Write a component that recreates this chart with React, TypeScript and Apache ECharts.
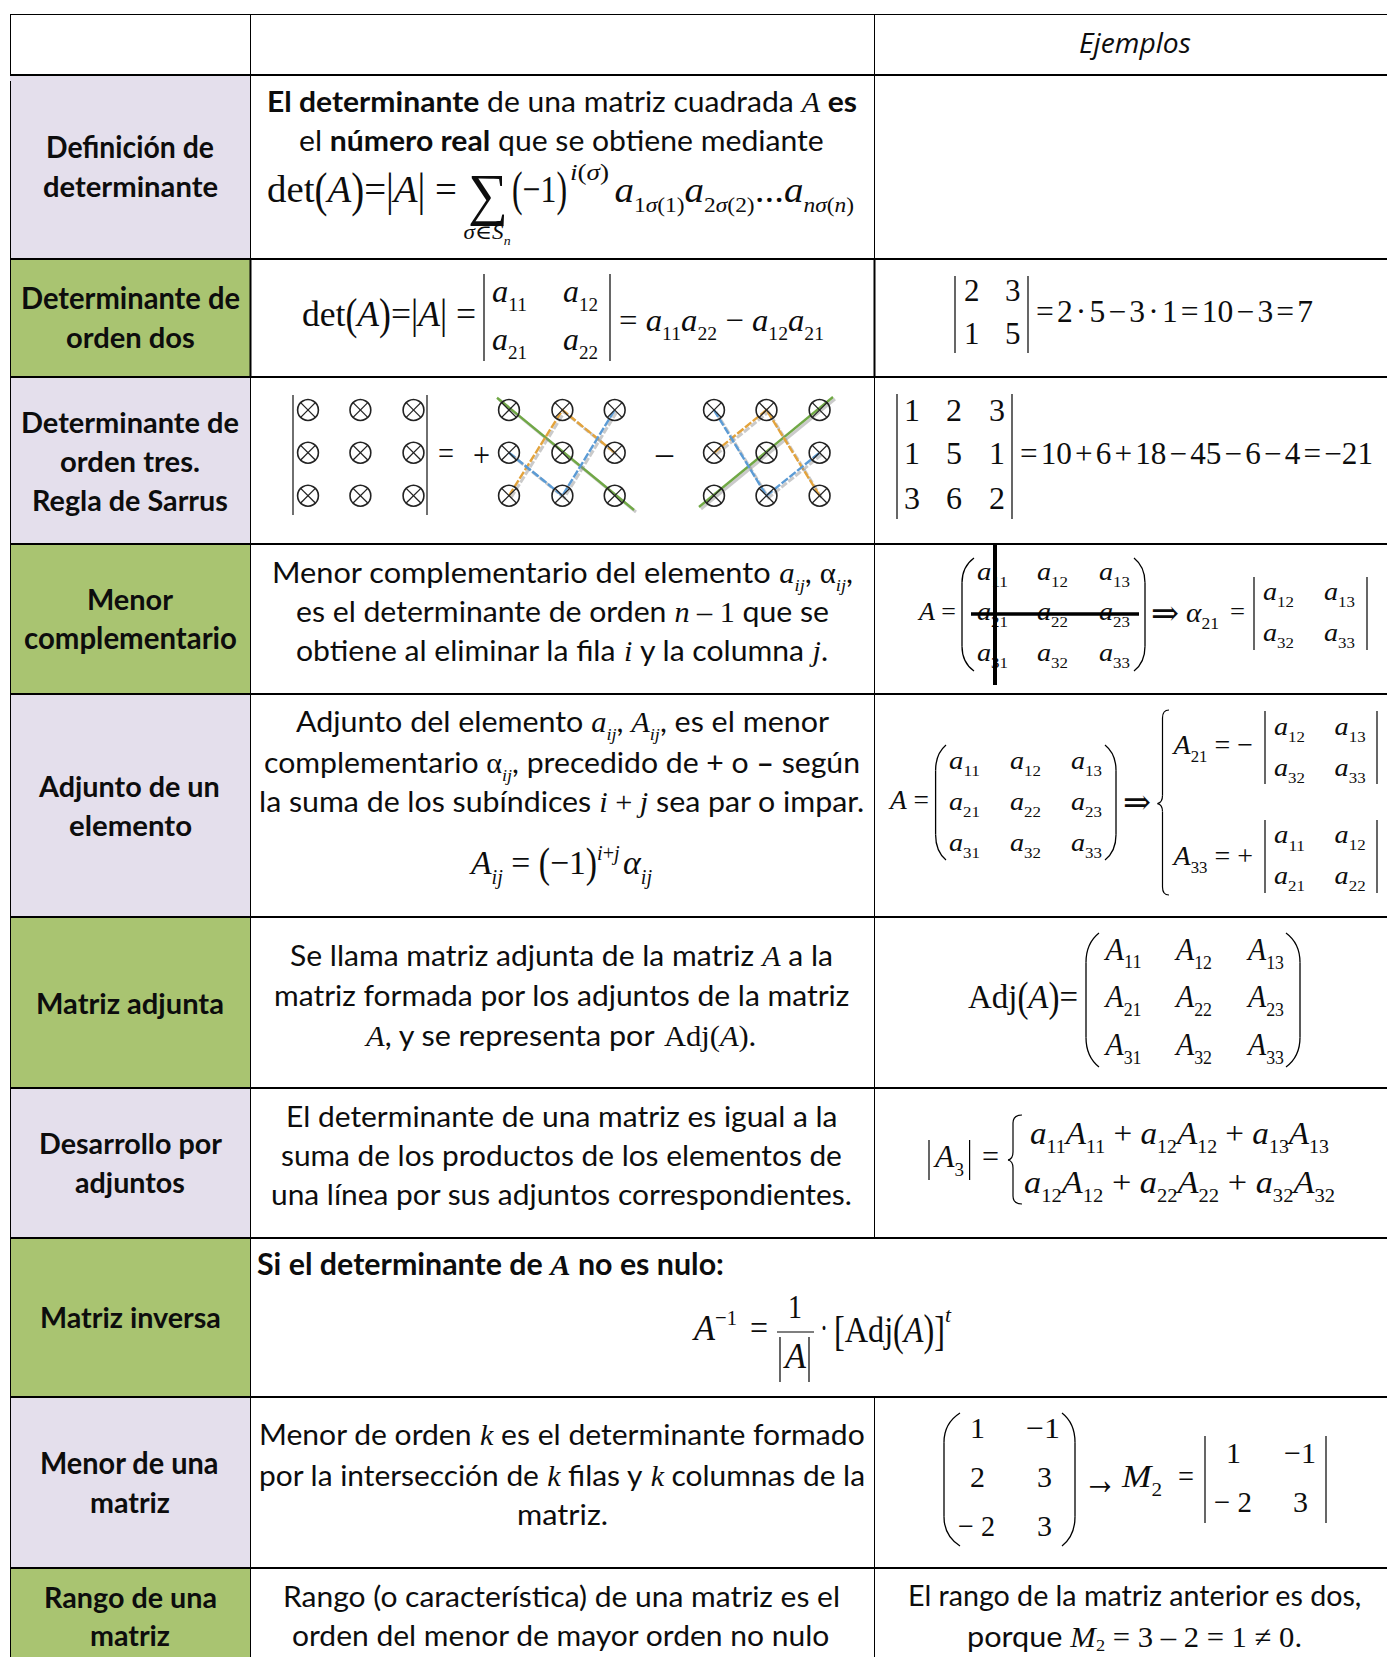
import React, { useEffect, useRef } from "react";
import * as echarts from "echarts";

// ---------- table content ----------
const rowLabels: string[][] = [
  ["Definición de", "determinante"],
  ["Determinante de", "orden dos"],
  ["Determinante de", "orden tres.", "Regla de Sarrus"],
  ["Menor", "complementario"],
  ["Adjunto de un", "elemento"],
  ["Matriz adjunta"],
  ["Desarrollo por", "adjuntos"],
  ["Matriz inversa"],
  ["Menor de una", "matriz"],
  ["Rango de una", "matriz"],
];
const headerExamples = "Ejemplos";
const definitionLines = ["**El determinante** de una matriz cuadrada $A$ **es**", "el **número real** que se obtiene mediante"];
const menorLines = [
  "Menor complementario del elemento $a_{ij}$, $‹α›_{ij}$,",
  "es el determinante de orden $n – 1$ que se",
  "obtiene al eliminar la fila $i$ y la columna $j$.",
];
const adjuntoLines = [
  "Adjunto del elemento $a_{ij}$, $A_{ij}$, es el menor",
  "complementario $‹α›_{ij}$, precedido de + o **–** según",
  "la suma de los subíndices $i + j$ sea par o impar.",
];
const matrizAdjLines = [
  "Se llama matriz adjunta de la matriz $A$ a la",
  "matriz formada por los adjuntos de la matriz",
  "$A$, y se representa por $‹Adj›(A)$.",
];
const desarrolloLines = [
  "El determinante de una matriz es igual a la",
  "suma de los productos de los elementos de",
  "una línea por sus adjuntos correspondientes.",
];
const inversaHead = "**Si el determinante de $A$ no es nulo:**";
const menorMatrizLines = [
  "Menor de orden $k$ es el determinante formado",
  "por la intersección de $k$ filas y $k$ columnas de la",
  "matriz.",
];
const rangoLines = ["Rango (o característica) de una matriz es el", "orden del menor de mayor orden no nulo"];
const rangoExample = ["El rango de la matriz anterior es dos,", "porque $M,{2} = 3 – 2 = 1 ≠ 0.$"];

const det2Cells = [["2", "3"], ["1", "5"]];
const det3Cells = [["1", "2", "3"], ["1", "5", "1"], ["3", "6", "2"]];
const aCells = [["a_{11}", "a_{12}", "a_{13}"], ["a_{21}", "a_{22}", "a_{23}"], ["a_{31}", "a_{32}", "a_{33}"]];
const aMinor21 = [["a_{12}", "a_{13}"], ["a_{32}", "a_{33}"]];
const aMinor33 = [["a_{11}", "a_{12}"], ["a_{21}", "a_{22}"]];
const aGeneric = [["a_{11}", "a_{12}"], ["a_{21}", "a_{22}"]];
const adjCells = [["A_{11}", "A_{12}", "A_{13}"], ["A_{21}", "A_{22}", "A_{23}"], ["A_{31}", "A_{32}", "A_{33}"]];
const minorMatrix = [["1", "−1"], ["2", "3"], ["− 2", "3"]];
const minorDet = [["1", "−1"], ["− 2", "3"]];

// ---------- layout ----------
const W = 1387;
const H = 1657;
const rowEdges = [14.5, 75, 259, 377, 544, 694, 917, 1088, 1238, 1397, 1568, 1657];
const edgeWidths = [1, 2, 2, 2, 2, 2, 2, 2, 2, 2, 2];
const colX = [10.5, 250.5, 874.5];
const LAVENDER = "#e4dfec";
const GREEN = "#a9c471";
const INK = "#0d0d0d";

type Fam = "sans" | "serif" | "head";
const FAMILY: Record<Fam, string> = {
  sans: "Lato",
  serif: '"Liberation Serif", "DejaVu Serif"',
  head: '"Open Sans"',
};
const CENTRAL: Record<Fam, number> = { sans: 0.387, serif: 0.3375, head: 0.388 };
const TALL: Record<string, [string, number]> = {
  "⦅": ["(", 1.25],
  "⦆": [")", 1.25],
  "∣": ["|", 1.2],
  "⟦": ["[", 1.2],
  "⟧": ["]", 1.2],
  "⇒": ["⇒", 1.35],
  "→": ["→", 1.35],
};

type Run = { t: string; fam: Fam; size: number; bold?: boolean; italic?: boolean; dy: number; sy?: number; gap?: number };

function mathRuns(s: string, size: number, dy: number, bold: boolean, out: Run[]) {
  let i = 0;
  let buf = "";
  let cls = "";
  const flush = () => {
    if (buf) out.push({ t: buf, fam: "serif", size, dy, bold, italic: cls === "i" });
    buf = "";
  };
  while (i < s.length) {
    const c = s[i];
    if ((c === "_" || c === "^" || c === ",") && s[i + 1] === "{") {
      flush();
      const end = s.indexOf("}", i);
      const off = c === "_" ? size * 0.28 : c === "," ? size * 0.14 : -size * 0.42;
      mathRuns(s.slice(i + 2, end), size * 0.6, dy + off, bold, out);
      i = end + 1;
      continue;
    }
    if (c === "‹") {
      flush();
      const end = s.indexOf("›", i);
      out.push({ t: s.slice(i + 1, end), fam: "serif", size, dy, bold, italic: false });
      i = end + 1;
      continue;
    }
    if (c === "~") {
      flush();
      out.push({ t: "", fam: "serif", size, dy, gap: size * 0.1 });
      i++;
      continue;
    }
    if (TALL[c]) {
      flush();
      out.push({ t: TALL[c][0], fam: "serif", size, dy, bold, italic: false, sy: TALL[c][1] });
      i++;
      continue;
    }
    const k = /[A-Za-zα-ω]/.test(c) ? "i" : "r";
    if (k !== cls) flush();
    cls = k;
    buf += c;
    i++;
  }
  flush();
}

function parse(str: string, size: number, mathScale: number, startBold: boolean, fam: Fam): Run[] {
  const out: Run[] = [];
  let bold = startBold;
  let buf = "";
  const flush = () => {
    if (buf) out.push({ t: buf, fam, size, dy: 0, bold });
    buf = "";
  };
  let i = 0;
  while (i < str.length) {
    if (str.startsWith("**", i)) {
      flush();
      bold = !bold;
      i += 2;
    } else if (str[i] === "$") {
      flush();
      const end = str.indexOf("$", i + 1);
      mathRuns(str.slice(i + 1, end), size * mathScale, 0, bold, out);
      i = end + 1;
    } else {
      buf += str[i];
      i++;
    }
  }
  flush();
  return out;
}

const measureCtx = typeof document !== "undefined" ? document.createElement("canvas").getContext("2d")! : (null as any);
function fontOf(r: { fam: Fam; size: number; bold?: boolean; italic?: boolean }) {
  return `${r.italic ? "italic " : ""}${r.bold ? "bold " : ""}${r.size}px ${FAMILY[r.fam]}`;
}
function widthOf(r: Run, t: string = r.t) {
  if (r.gap != null) return r.gap;
  measureCtx.font = fontOf(r);
  return measureCtx.measureText(t).width;
}

function buildElements() {
  const els: any[] = [];

  const hline = (x0: number, x1: number, y: number, w: number, color = "#000") =>
    els.push({ type: "line", shape: { x1: x0, y1: y, x2: x1, y2: y }, style: { stroke: color, lineWidth: w } });
  const vline = (x: number, y0: number, y1: number, w = 1.2, color = "#000") =>
    els.push({ type: "line", shape: { x1: x, y1: y0, x2: x, y2: y1 }, style: { stroke: color, lineWidth: w } });
  const seg = (x1: number, y1: number, x2: number, y2: number, style: any) =>
    els.push({ type: "line", shape: { x1, y1, x2, y2 }, style });
  const bez = (x1: number, y1: number, cpx1: number, cpy1: number, x2: number, y2: number, w = 1.2) =>
    els.push({ type: "bezierCurve", shape: { x1, y1, cpx1, cpy1, x2, y2 }, style: { stroke: "#000", lineWidth: w, fill: null } });

  // text line: runs laid out from x0, squeezed to reach x1 when given
  const text = (
    x0: number,
    x1: number | null,
    base: number,
    size: number,
    str: string,
    o: { bold?: boolean; fam?: Fam; mathScale?: number; italic?: boolean } = {},
  ) => {
    const runs = parse(str, size, o.mathScale ?? 1, !!o.bold, o.fam ?? "sans");
    if (o.italic) runs.forEach((r) => (r.italic = true));
    const total = runs.reduce((a, r) => a + widthOf(r), 0);
    const sx = x1 == null ? 1 : (x1 - x0) / total;
    let x = x0;
    for (const r of runs) {
      const full = widthOf(r);
      const lead = r.t.length - r.t.trimStart().length;
      const trimmed = r.t.trim();
      if (trimmed) {
        const px = x + (lead ? widthOf(r, r.t.slice(0, lead)) : 0) * sx;
        els.push({
          type: "text",
          x: px,
          y: base + r.dy - CENTRAL[r.fam] * r.size,
          scaleX: sx,
          scaleY: r.sy ?? 1,
          style: {
            text: trimmed,
            fill: INK,
            fontFamily: FAMILY[r.fam],
            fontSize: r.size,
            fontWeight: r.bold ? "bold" : "normal",
            fontStyle: r.italic ? "italic" : "normal",
            align: "left",
            verticalAlign: "middle",
          },
        });
      }
      x += full * sx;
    }
  };
  const math = (x0: number, x1: number | null, base: number, size: number, str: string) =>
    text(x0, x1, base, size, `$${str}$`, { mathScale: 1 });

  const grid = (cells: string[][], xs: number[], ys: number[], size: number, w: number | null) =>
    cells.forEach((row, ri) =>
      row.forEach((c, ci) => math(xs[ci], w == null ? null : xs[ci] + w, ys[ri], size, c)),
    );

  const paren = (xTip: number, xSpine: number, y0: number, y1: number, w = 1.3) => {
    const r = (y1 - y0) * 0.22;
    bez(xTip, y0, xSpine, y0 + r * 0.35, xSpine, y0 + r, w);
    vline(xSpine, y0 + r, y1 - r, w);
    bez(xSpine, y1 - r, xSpine, y1 - r * 0.35, xTip, y1, w);
  };
  const brace = (xTip: number, xSpine: number, xEnd: number, y0: number, ym: number, y1: number) => {
    const w = 1.2;
    bez(xEnd, y0, xSpine, y0, xSpine, y0 + 8, w);
    vline(xSpine, y0 + 8, ym - 8, w);
    bez(xSpine, ym - 8, xSpine, ym - 1, xTip, ym, w);
    bez(xTip, ym, xSpine, ym + 1, xSpine, ym + 8, w);
    vline(xSpine, ym + 8, y1 - 8, w);
    bez(xSpine, y1 - 8, xSpine, y1, xEnd, y1, w);
  };

  // ---------- cell fills ----------
  rowLabels.forEach((_, i) => {
    els.push({
      type: "rect",
      shape: { x: 10, y: rowEdges[i + 1], width: 240, height: rowEdges[i + 2] - rowEdges[i + 1] },
      style: { fill: i % 2 === 0 ? LAVENDER : GREEN },
    });
  });

  // ---------- grid lines ----------
  rowEdges.slice(0, -1).forEach((y, i) => hline(10, W, y, edgeWidths[i]));
  vline(colX[0], rowEdges[0], rowEdges[1], 1);
  vline(colX[0], rowEdges[1] + 6, H, 1);
  vline(colX[1], rowEdges[0], H, 1);
  vline(colX[1], rowEdges[2], rowEdges[3], 2);
  vline(colX[2], rowEdges[0], rowEdges[8], 1);
  vline(colX[2], rowEdges[9], H, 1);
  vline(colX[2], rowEdges[2], rowEdges[3], 2);

  // ---------- row labels ----------
  const labelSpans: number[][][] = [
    [[46, 214, 157.5], [43, 218, 196.5]],
    [[21, 240, 308.5], [66, 195, 347.5]],
    [[21, 239, 433], [60, 200, 472], [32, 228, 511]],
    [[87, 173, 610], [24, 237, 649]],
    [[39, 220, 797], [69, 192, 836]],
    [[36, 224, 1014]],
    [[39, 222, 1153.5], [75, 185, 1192.5]],
    [[40, 221, 1328]],
    [[40, 219, 1474], [90, 170, 1513]],
    [[44, 217, 1608], [90, 170, 1646]],
  ];
  rowLabels.forEach((lines, i) =>
    lines.forEach((t, j) => text(labelSpans[i][j][0], labelSpans[i][j][1], labelSpans[i][j][2], 29.5, t, { bold: true })),
  );

  // header
  text(1079, 1191, 52.5, 27, headerExamples, { fam: "head", italic: true });

  const body = 29.5;
  const para = (lines: string[], spans: number[][]) =>
    lines.forEach((t, i) => text(spans[i][0], spans[i][1], spans[i][2], body, t));

  // ---------- row 1: definition ----------
  para(definitionLines, [[267, 857, 112], [299, 824, 151.5]]);
  math(267, 457, 202, 38, "‹det›⦅A⦆=∣A∣ =");
  math(468, 508, 214, 58, "‹∑›");
  math(512, 567, 202, 38, "⦅−1⦆");
  math(570, 609, 180, 23, "i(σ)");
  math(614.5, 854, 202, 36, "a_{1σ(1)}a_{2σ(2)}‹...›a_{nσ(n)}");
  math(463.5, 510.6, 239, 20, "σ‹∈›S_{n}");

  // ---------- row 2 ----------
  math(302, 476, 326, 36, "‹det›⦅A⦆=∣A∣ =");
  vline(484, 274, 361);
  vline(610, 274, 361);
  grid(aGeneric, [492, 563], [302, 350], 32, 35);
  math(619, 824, 331, 32, "= a_{11}a_{22} − a_{12}a_{21}");
  vline(955, 276, 353);
  vline(1028, 276, 353);
  grid(det2Cells, [964, 1005], [301, 344], 31, null);
  math(1036, 1313, 322, 31, "=~2~·~5~−~3~·~1~=~10~−~3~=~7");

  // ---------- row 3: Sarrus ----------
  const ys = [410, 452.7, 495.7];
  const groups = [
    [308, 360.4, 413.5],
    [509, 562.4, 614.7],
    [714, 766.5, 819.6],
  ];
  vline(293, 395, 515, 1.4, "#333");
  vline(427, 395, 515, 1.4, "#333");
  text(438, 454, 464, 32, "=", { fam: "serif" });
  text(473, 490, 466, 34, "+", { fam: "serif" });
  text(656, 673, 464, 34, "–", { fam: "serif" });
  const GRN = "#70a845";
  const BLUE = "#5b9bd5";
  const ORANGE = "#e3a33c";
  const poly = (pts: number[][], color: string, dashed: boolean) => {
    els.push({
      type: "polyline",
      shape: { points: pts.map((p) => [p[0] + 2, p[1] + 2]) },
      style: { stroke: "#8a8a8a", opacity: 0.45, lineWidth: 3, fill: null, lineDash: dashed ? [7, 2] : undefined },
    });
    els.push({
      type: "polyline",
      shape: { points: pts },
      style: { stroke: color, lineWidth: 2.4, fill: null, lineDash: dashed ? [8, 2] : undefined },
    });
  };
  const [mx, rx] = [groups[1], groups[2]];
  poly([[497, 397.7], [634, 510]], GRN, false);
  poly([[mx[0], ys[2]], [mx[1], ys[0]], [mx[2], ys[1]]], ORANGE, true);
  poly([[mx[0], ys[1]], [mx[1], ys[2]], [mx[2], ys[0]]], BLUE, true);
  poly([[699, 507], [833, 397]], GRN, false);
  poly([[rx[0], ys[1]], [rx[1], ys[0]], [rx[2], ys[2]]], ORANGE, true);
  poly([[rx[0], ys[0]], [rx[1], ys[2]], [rx[2], ys[1]]], BLUE, true);
  groups.forEach((g) =>
    g.forEach((cx) =>
      ys.forEach((cy) => {
        const r = 10.4;
        const d = r * 0.707;
        els.push({ type: "circle", shape: { cx, cy, r }, style: { fill: null, stroke: "#222", lineWidth: 1.6 } });
        seg(cx - d, cy - d, cx + d, cy + d, { stroke: "#222", lineWidth: 1.3 });
        seg(cx - d, cy + d, cx + d, cy - d, { stroke: "#222", lineWidth: 1.3 });
      }),
    ),
  );
  vline(897, 394, 519);
  vline(1012, 394, 519);
  grid(det3Cells, [904, 946, 989], [420.5, 464, 509], 32, null);
  math(1020, 1373, 464, 31, "=~10~+~6~+~18~−~45~−~6~−~4~=~−21");

  // ---------- row 4 ----------
  para(menorLines, [[272, 853, 583], [296, 829, 622], [296, 828, 661]]);
  math(919, 956, 620.5, 26, "A =");
  paren(974, 962, 558, 671);
  paren(1134, 1145, 558, 671);
  grid(aCells, [977, 1037, 1099], [580, 620.5, 661.5], 26, 31);
  math(1151, 1179, 621, 26, "⇒");
  math(1186, 1219, 622, 27, "α_{21}");
  math(1230, 1245, 620.5, 26, "=");
  vline(1254, 577, 650);
  vline(1367, 577, 650);
  grid(aMinor21, [1263, 1324], [600, 641.5], 26, 31);
  // crossing-out lines drawn over the elements
  vline(995, 544, 685, 4);
  hline(971, 1139, 614, 3.4);

  // ---------- row 5 ----------
  para(adjuntoLines, [[296, 829, 732], [264, 860, 773], [259, 865, 812]]);
  math(471, 652, 874, 34, "A_{ij} = ⦅−1⦆^{i+j}~α_{ij}");
  math(890, 929, 809.6, 27, "A =");
  paren(946, 935.6, 745, 860);
  paren(1105, 1116, 745, 860);
  grid(aCells, [949, 1010, 1071], [769, 810, 851], 26, 31);
  math(1123, 1151, 810.5, 26, "⇒");
  brace(1157.5, 1162.5, 1169, 710, 803.6, 895);
  math(1173.6, 1253, 754, 28, "A_{21} = −");
  math(1173.6, 1253, 865, 28, "A_{33} = +");
  vline(1265, 711, 784);
  vline(1377, 711, 784);
  vline(1265, 820, 893);
  vline(1377, 820, 893);
  grid(aMinor21, [1274, 1334.6], [735, 776], 26, 31);
  grid(aMinor33, [1274, 1334.6], [843.6, 884.6], 26, 31);

  // ---------- row 6 ----------
  para(matrizAdjLines, [[290, 833, 966], [274, 850, 1006], [366, 756, 1046]]);
  math(968, 1078, 1008, 34, "‹Adj›⦅A⦆=");
  paren(1099, 1086, 933, 1067);
  paren(1286, 1300, 933, 1067);
  grid(adjCells, [1105.5, 1176, 1248], [960, 1007, 1055], 31, 36);

  // ---------- row 7 ----------
  para(desarrolloLines, [[286, 838, 1127], [281, 842, 1166], [271, 853, 1205]]);
  vline(929, 1140, 1180);
  vline(969.6, 1140, 1180);
  math(935, 964, 1167, 32, "A_{3}");
  math(982, 999, 1167, 32, "=");
  brace(1008, 1013, 1022, 1115, 1160, 1204);
  math(1030, 1329, 1144, 32, "a_{11}A_{11} + a_{12}A_{12} + a_{13}A_{13}");
  math(1024, 1335, 1193, 32, "a_{12}A_{12} + a_{22}A_{22} + a_{32}A_{32}");

  // ---------- row 8 ----------
  text(257, 724, 1275, body, inversaHead);
  math(694, 737, 1340, 36, "A^{−1}");
  math(750, 768, 1340, 36, "=");
  math(788, 802, 1318, 34, "1");
  hline(777, 814, 1332, 1.2);
  vline(780, 1337, 1382);
  vline(809, 1337, 1382);
  math(785, 806, 1368, 36, "A");
  math(820, 828, 1340, 36, "·");
  math(834, 945, 1342, 36, "⟦‹Adj›⦅A⦆⟧");
  math(945, 951, 1322, 20, "t");

  // ---------- row 9 ----------
  para(menorMatrizLines, [[259, 865, 1445], [259, 865, 1486], [517, 608, 1525]]);
  paren(960, 944, 1413, 1546);
  paren(1062, 1075, 1413, 1546);
  grid([[minorMatrix[0][0]]], [970], [1438], 30, null);
  math(1026, 1060, 1438, 30, minorMatrix[0][1]);
  math(970, null, 1487, 30, minorMatrix[1][0]);
  math(1037, null, 1487, 30, minorMatrix[1][1]);
  math(958, 995, 1536, 30, minorMatrix[2][0]);
  math(1037, null, 1536, 30, minorMatrix[2][1]);
  math(1083, 1117, 1490, 32, "→");
  math(1122, 1162, 1487, 31, "M_{2}");
  math(1178, 1194, 1487, 32, "=");
  vline(1205, 1436, 1523);
  vline(1326, 1436, 1523);
  math(1226, null, 1463, 30, minorDet[0][0]);
  math(1284, 1316, 1463, 30, minorDet[0][1]);
  math(1214, 1252, 1512, 30, minorDet[1][0]);
  math(1293, null, 1512, 30, minorDet[1][1]);

  // ---------- row 10 ----------
  para(rangoLines, [[283, 840, 1607], [292, 831, 1646]]);
  para(rangoExample, [[908, 1362, 1606], [967, 1302, 1647]]);

  return els;
}

export default function App() {
  const ref = useRef<HTMLDivElement>(null);
  useEffect(() => {
    if (!ref.current) return;
    const chart = echarts.init(ref.current, undefined, { renderer: "svg" });
    chart.setOption({ animation: false, backgroundColor: "#ffffff", graphic: buildElements() });
    return () => chart.dispose();
  }, []);
  return <div ref={ref} style={{ position: "absolute", left: 0, top: 0, width: W, height: H }} />;
}
